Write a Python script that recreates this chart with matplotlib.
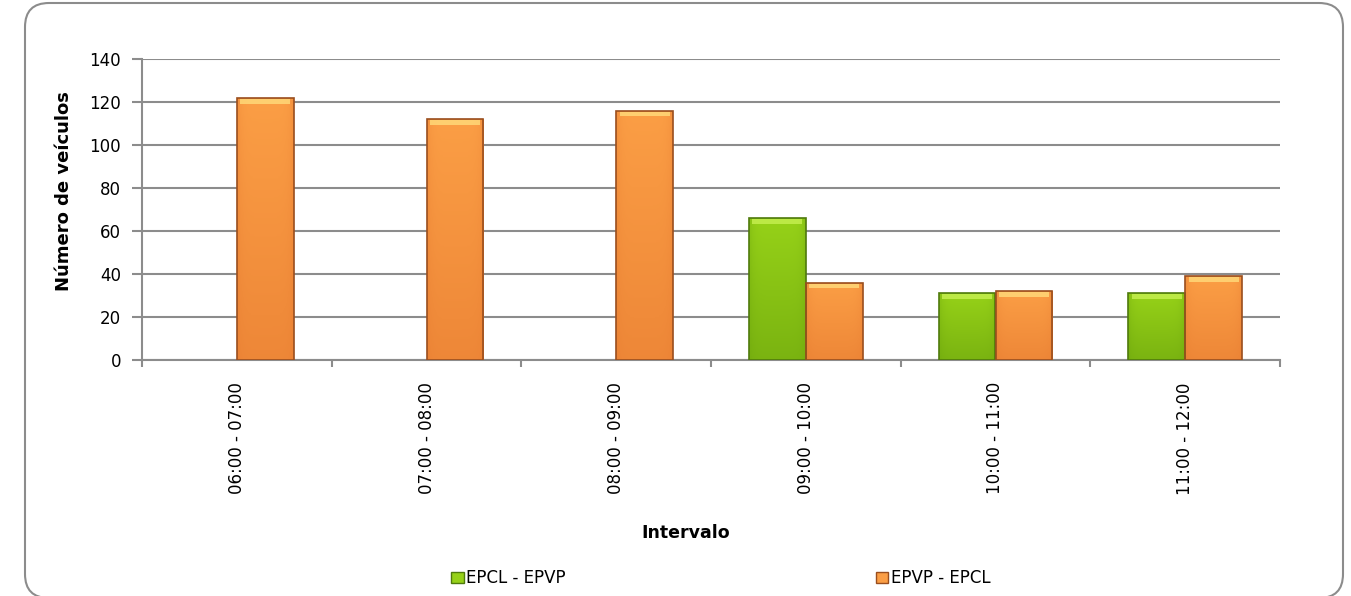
import matplotlib
matplotlib.use("Agg")
import matplotlib.pyplot as plt
import numpy as np
from matplotlib.patches import FancyBboxPatch, Patch
from matplotlib.colors import LinearSegmentedColormap

# dados
intervals = ["06:00 - 07:00", "07:00 - 08:00", "08:00 - 09:00",
             "09:00 - 10:00", "10:00 - 11:00", "11:00 - 12:00"]
epcl_epvp = [0, 0, 0, 66, 31, 31]
epvp_epcl = [122, 112, 116, 36, 32, 39]
series_names = ["EPCL - EPVP", "EPVP - EPCL"]
y_ticks = [0, 20, 40, 60, 80, 100, 120, 140]

plt.rcParams["font.family"] = ["DejaVu Sans"]

W, H = 1351, 596
fig = plt.figure(figsize=(W / 100, H / 100), dpi=100)
ax = fig.add_axes([142 / W, (H - 360) / H, (1280 - 142) / W, 301 / H])

x = np.arange(len(intervals))
bw = 0.3

# cores: (topo, base, borda)
styles = [("#96D118", "#68A00C", "#4F7A0C"),
          ("#FB9E45", "#E5782F", "#9A4E1E")]
top_light = ["#C4EE4E", "#FFD878"]

def grad_bars(bars, c_top, c_bot, c_edge, c_hl):
    cmap = LinearSegmentedColormap.from_list("g", [c_bot, c_top])
    for b in bars:
        h = b.get_height()
        if h <= 0:
            continue
        x0, w = b.get_x(), b.get_width()
        grad = np.linspace(0, 1, 100).reshape(-1, 1)
        # leve sombreado lateral
        side = 1 - 0.3 * np.abs(np.linspace(-1, 1, 40)) ** 6
        img = (grad * 0.6 + 0.4) * side[None, :]
        im = ax.imshow(img, cmap=cmap, vmin=0, vmax=1, aspect="auto",
                       extent=(x0, x0 + w, 0, h), origin="lower", zorder=3)
        im.set_clip_path(b)
        # faixa clara no topo
        ax.bar(x0 + w / 2, 2.2, width=w * 0.88, bottom=h - 2.7,
               color=c_hl, alpha=0.85, zorder=4, linewidth=0)
        b.set_facecolor("none")
        b.set_edgecolor(c_edge)
        b.set_linewidth(1.2)
        b.set_zorder(5)

bars1 = ax.bar(x - bw / 2, epcl_epvp, width=bw, label=series_names[0])
bars2 = ax.bar(x + bw / 2, epvp_epcl, width=bw, label=series_names[1])
grad_bars(bars1, *styles[0], top_light[0])
grad_bars(bars2, *styles[1], top_light[1])

ax.set_xlim(-0.5, len(intervals) - 0.5)
ax.set_ylim(0, 140)
ax.set_yticks(y_ticks)
ax.set_yticklabels([str(v) for v in y_ticks], fontsize=12)
ax.yaxis.grid(True, color="#8C8C8C", linewidth=1.5)
ax.set_axisbelow(True)

ax.set_xticks(x)
ax.set_xticklabels(intervals, rotation=90, fontsize=12, va="top")
ax.set_xticks(np.arange(len(intervals) + 1) - 0.5, minor=True)
ax.tick_params(axis="x", which="major", length=0, pad=16)
ax.tick_params(axis="x", which="minor", length=5, width=1.5, color="#8C8C8C", direction="out")
ax.tick_params(axis="y", length=7, width=1.5, color="#8C8C8C", pad=8)

for s in ["top", "right"]:
    ax.spines[s].set_visible(False)
for s in ["left", "bottom"]:
    ax.spines[s].set_color("#8C8C8C")
    ax.spines[s].set_linewidth(1.5)

fig.text(686 / W, 1 - 533 / H, "Intervalo", fontsize=12.5, fontweight="bold",
         ha="center", va="center")
fig.text(64 / W, 1 - 191 / H, "Número de veículos", fontsize=13,
         fontweight="bold", rotation=90, ha="center", va="center")

# legenda
handles = [Patch(facecolor=styles[0][0], edgecolor=styles[0][2]),
           Patch(facecolor=styles[1][0], edgecolor=styles[1][2])]
fig.legend(handles, series_names, loc="center left",
           bbox_to_anchor=(451 / W, 1 - 578 / H), ncol=2, frameon=False,
           fontsize=12, handlelength=0.75, handleheight=0.65,
           handletextpad=0.15, columnspacing=18.6, borderaxespad=0,
           borderpad=0)

# moldura arredondada
frame = FancyBboxPatch((25, -2), 1343 - 25, H - 1,
                       boxstyle="round,pad=0,rounding_size=24",
                       transform=None, facecolor="none",
                       edgecolor="#8C8C8C", linewidth=1.5)
fig.patches.append(frame)

fig.savefig("out.png", dpi=100, facecolor="white")
